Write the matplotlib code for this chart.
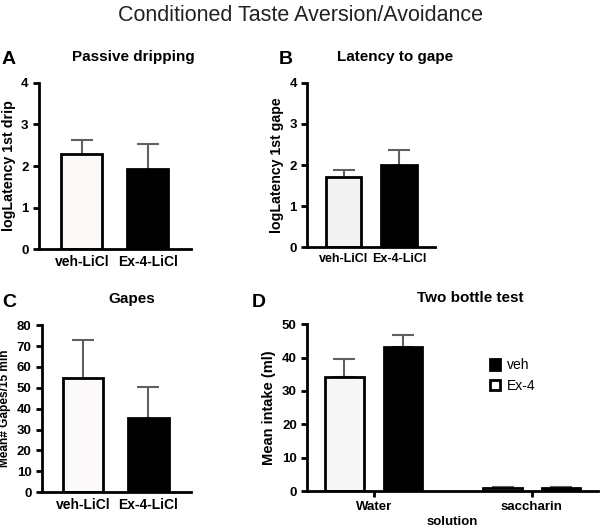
#!/usr/bin/env python3
"""
Conditioned Taste Aversion/Avoidance - four panel bar chart
"""

import matplotlib
matplotlib.use('Agg')
import matplotlib.pyplot as plt
from matplotlib.patches import Patch

plt.rcParams['font.family'] = ['Liberation Sans', 'DejaVu Sans']

# ---------- data ----------
groups = ['veh-LiCl', 'Ex-4-LiCl']

drip_mean = [2.30, 1.93]
drip_err = [0.33, 0.60]

gape_lat_mean = [1.71, 2.01]
gape_lat_err = [0.17, 0.36]

gapes_mean = [54.5, 35.5]
gapes_err = [18.3, 14.7]

solutions = ['Water', 'saccharin']
intake_ex4 = [34.3, 0.8]
intake_ex4_err = [5.2, 0.3]
intake_veh = [43.2, 0.8]
intake_veh_err = [3.6, 0.3]

ERR_COLOR = '#606060'


def style_axes(ax, ysize):
    """GraphPad-like axes: only left/bottom spines, thick lines, bold ticks"""
    for side in ['top', 'right']:
        ax.spines[side].set_visible(False)
    for side in ['left', 'bottom']:
        ax.spines[side].set_linewidth(2)
    ax.tick_params(axis='y', width=2, length=4, labelsize=ysize)
    for lbl in ax.get_yticklabels() + ax.get_xticklabels():
        lbl.set_fontweight('bold')


def two_bar_panel(ax, means, errs, fill, width, xlim, ylim, yticks, ylabel, title,
                  title_x, xsize, ylsize):
    x = list(range(len(groups)))
    ax.bar(x, means, width=width, color=[fill, 'black'], edgecolor='black',
           linewidth=2, zorder=2)
    ax.errorbar(x, means, yerr=errs, fmt='none', ecolor=ERR_COLOR,
                elinewidth=1.5, capsize=8, capthick=1.5, zorder=1)
    ax.set_xlim(*xlim)
    ax.set_ylim(*ylim)
    ax.set_yticks(yticks)
    ax.set_xticks(x)
    ax.set_xticklabels(groups, fontsize=xsize)
    ax.tick_params(axis='x', length=0, pad=4)
    ax.set_ylabel(ylabel, fontsize=ylsize, fontweight='bold')
    ax.set_title(title, fontsize=11, fontweight='bold', pad=16, x=title_x)
    style_axes(ax, 9.5)


fig = plt.figure(figsize=(6, 5.28), dpi=100)

# ========== A: Passive dripping ==========
axA = fig.add_axes([0.065, 0.528, 0.253, 0.315])
two_bar_panel(axA, drip_mean, drip_err, '#fbf8f8', 0.62, (-0.65, 1.65),
              (0, 4), [0, 1, 2, 3, 4], 'logLatency 1st drip', 'Passive dripping',
              0.62, 10, 10.3)

# ========== B: Latency to gape ==========
axB = fig.add_axes([0.512, 0.532, 0.213, 0.311])
two_bar_panel(axB, gape_lat_mean, gape_lat_err, '#f3f3f3', 0.64, (-0.66, 1.65),
              (0, 4), [0, 1, 2, 3, 4], 'logLatency 1st gape', 'Latency to gape',
              0.69, 9, 10.2)

# ========== C: Gapes ==========
axC = fig.add_axes([0.07, 0.068, 0.248, 0.316])
two_bar_panel(axC, gapes_mean, gapes_err, '#fbf9f9', 0.62, (-0.63, 1.65),
              (0, 80), list(range(0, 81, 10)), 'Mean# Gapes/15 min', 'Gapes',
              0.60, 10, 8.6)

# ========== D: Two bottle test ==========
axD = fig.add_axes([0.512, 0.070, 0.485, 0.316])
xs = list(range(len(solutions)))
off = 0.185
bw = 0.245
x_ex4 = [x - off for x in xs]
x_veh = [x + off for x in xs]
axD.bar(x_ex4, intake_ex4, width=bw, color='#f7f7f7', edgecolor='black',
        linewidth=2, zorder=2)
axD.bar(x_veh, intake_veh, width=bw, color='black', edgecolor='black',
        linewidth=2, zorder=2)
axD.errorbar(x_ex4, intake_ex4, yerr=[[0, 0], intake_ex4_err], fmt='none',
             ecolor=ERR_COLOR, elinewidth=1.5, capsize=8, capthick=1.5, zorder=1)
axD.errorbar(x_veh, intake_veh, yerr=[[0, 0], intake_veh_err], fmt='none',
             ecolor=ERR_COLOR, elinewidth=1.5, capsize=8, capthick=1.5, zorder=1)
axD.set_xlim(-0.42, 1.42)
axD.set_ylim(0, 50)
axD.set_yticks(range(0, 51, 10))
axD.set_xticks(xs)
axD.set_xticklabels(solutions, fontsize=9.5)
axD.tick_params(axis='x', width=2, length=4, pad=3)
axD.set_ylabel('Mean intake (ml)', fontsize=10.5, fontweight='bold')
axD.set_xlabel('solution', fontsize=9.5, fontweight='bold', labelpad=2)
axD.set_title('Two bottle test', fontsize=11, fontweight='bold', pad=16, x=0.56)
style_axes(axD, 9.5)

handles = [Patch(facecolor='black', edgecolor='black', linewidth=2, label='veh'),
           Patch(facecolor='white', edgecolor='black', linewidth=2, label='Ex-4')]
axD.legend(handles=handles, loc='upper left', bbox_to_anchor=(0.585, 0.87),
           frameon=False, fontsize=10, handlelength=0.75, handleheight=0.75,
           handletextpad=0.5, labelspacing=0.45)

# panel letters
for letter, (px, py) in zip('ABCD', [(0.003, 0.888), (0.465, 0.888),
                                      (0.003, 0.428), (0.42, 0.428)]):
    fig.text(px, py, letter, fontsize=14, fontweight='heavy', ha='left', va='center')

fig.suptitle('Conditioned Taste Aversion/Avoidance', fontsize=15.5,
             color='#222222', y=0.99, va='top')

plt.savefig('out.png', dpi=100)
